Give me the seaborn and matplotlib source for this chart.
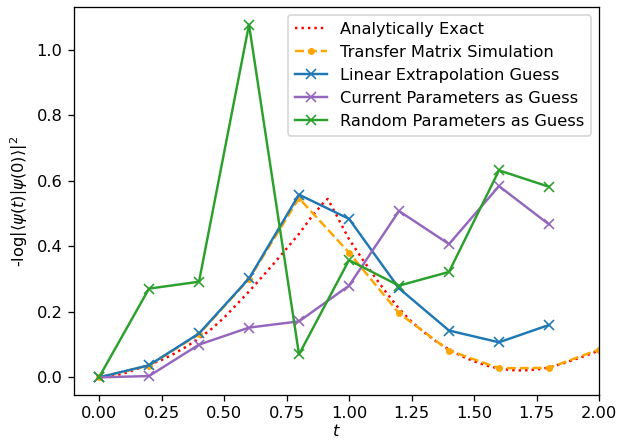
import matplotlib
matplotlib.use("Agg")
import matplotlib.pyplot as plt
import seaborn as sns
import numpy as np

# Analytically exact curve (finely sampled)
t_exact = [0.00, 0.05, 0.10, 0.15, 0.20, 0.25, 0.30, 0.35, 0.40, 0.45, 0.50,
           0.55, 0.60, 0.65, 0.70, 0.75, 0.80, 0.85, 0.90, 0.915, 0.95, 1.00,
           1.05, 1.10, 1.15, 1.20, 1.25, 1.30, 1.35, 1.40, 1.45, 1.50, 1.55,
           1.60, 1.65, 1.70, 1.75, 1.80, 1.85, 1.90, 1.95, 2.00]
y_exact = [0.000, 0.004, 0.012, 0.025, 0.038, 0.053, 0.072, 0.094, 0.119, 0.148, 0.182,
           0.222, 0.262, 0.305, 0.348, 0.393, 0.438, 0.490, 0.535, 0.545, 0.495, 0.422,
           0.365, 0.310, 0.258, 0.210, 0.170, 0.138, 0.109, 0.085, 0.065, 0.049, 0.036,
           0.027, 0.022, 0.021, 0.024, 0.030, 0.041, 0.054, 0.067, 0.082]

# Transfer matrix simulation
t_tm = [0.0, 0.2, 0.4, 0.6, 0.8, 1.0, 1.2, 1.4, 1.6, 1.8, 2.0]
y_tm = [0.000, 0.036, 0.132, 0.300, 0.547, 0.381, 0.196, 0.082, 0.028, 0.029, 0.085]

# Guesses
t_guess = [0.0, 0.2, 0.4, 0.6, 0.8, 1.0, 1.2, 1.4, 1.6, 1.8]
y_linear = [0.000, 0.037, 0.134, 0.302, 0.558, 0.484, 0.272, 0.143, 0.107, 0.160]
y_current = [0.000, 0.004, 0.100, 0.152, 0.171, 0.280, 0.508, 0.407, 0.584, 0.467]
y_random = [0.000, 0.271, 0.292, 1.077, 0.070, 0.358, 0.280, 0.322, 0.632, 0.582]

DPI = 117
fig = plt.figure(figsize=(619 / DPI, 442 / DPI), dpi=DPI)
ax = fig.add_axes([74/619, 47/442, 525/619, 388/442])

sns.lineplot(x=t_exact, y=y_exact, ax=ax, color="red", linestyle=":",
             label="Analytically Exact", sort=False)
sns.lineplot(x=t_tm, y=y_tm, ax=ax, color="orange", linestyle="--", marker=".",
             markeredgecolor="orange", markersize=7, label="Transfer Matrix Simulation")
sns.lineplot(x=t_guess, y=y_linear, ax=ax, color="C0", marker="x",
             markeredgecolor="C0", markeredgewidth=1.0, markersize=6,
             label="Linear Extrapolation Guess")
sns.lineplot(x=t_guess, y=y_current, ax=ax, color="C4", marker="x",
             markeredgecolor="C4", markeredgewidth=1.0, markersize=6,
             label="Current Parameters as Guess")
sns.lineplot(x=t_guess, y=y_random, ax=ax, color="C2", marker="x",
             markeredgecolor="C2", markeredgewidth=1.0, markersize=6,
             label="Random Parameters as Guess")

ax.set_xlim(-0.1, 2.0)
ax.set_xlabel("$t$", labelpad=1)
ax.set_ylabel(r"-log$\left|\left\langle\psi(t)\middle|\psi(0)\right\rangle\right|^2$")
ax.legend(loc="upper right")

fig.savefig("out.png", dpi=DPI)
